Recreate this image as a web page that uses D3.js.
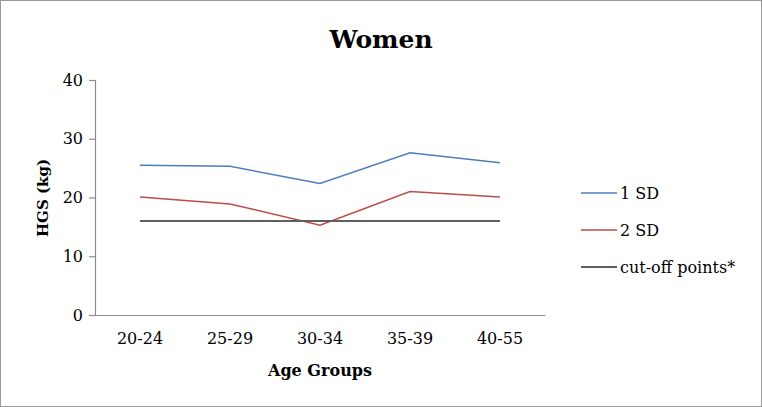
<!DOCTYPE html>
<html><head><meta charset="utf-8">
<script src="https://cdn.jsdelivr.net/npm/d3@7"></script>
<style>body{margin:0;background:#fff}svg{display:block}</style>
</head><body>
<script>
const categories = ["20-24","25-29","30-34","35-39","40-55"];
const sd1 = [25.5, 25.3, 22.4, 27.6, 25.9];
const sd2 = [20.1, 18.9, 15.3, 21.0, 20.1];
const cutoff = [16, 16, 16, 16, 16];
const seriesNames = ["1 SD","2 SD","cut-off points*"];
const yTicks = [0,10,20,30,40];

(function(){
const W = 762, H = 407;
const svg = d3.select("body").append("svg").attr("width",W).attr("height",H);
svg.append("rect").attr("x",0.5).attr("y",0.5).attr("width",W-1).attr("height",H-1)
  .attr("fill","#fff").attr("stroke","#9a9a9a");

const mL = 95, mR = 545, mT = 80, mB = 315;
const x = d3.scaleBand().domain(categories).range([mL,mR]);
const y = d3.scaleLinear().domain([0,40]).range([mB,mT]);

const font = "'DejaVu Serif', serif";

// y axis
const ya = svg.append("g").attr("transform",`translate(${mL},0)`)
  .call(d3.axisLeft(y).tickValues(yTicks).tickSize(6).tickPadding(6));
ya.select(".domain").attr("stroke","#8c8c8c").attr("stroke-width",1.2);
ya.selectAll(".tick line").attr("stroke","#8c8c8c").attr("stroke-width",1.2);
ya.selectAll("text").attr("font-family",font).attr("font-size",16).attr("fill","#000");

// x axis
const xa = svg.append("g").attr("transform",`translate(0,${mB})`)
  .call(d3.axisBottom(x).tickSize(0).tickPadding(18).tickSizeOuter(0));
xa.select(".domain").attr("stroke","#8c8c8c").attr("stroke-width",1.2);
xa.selectAll("text").attr("font-family",font).attr("font-size",16).attr("fill","#000");

const colors = ["#4a7ebb","#be4b48","#5f5f5f"];
const data = [sd1, sd2, cutoff];
const line = d3.line().x((d,i)=>x(categories[i])+x.bandwidth()/2).y(d=>y(d));
data.forEach((s,k)=>{
  svg.append("path").datum(s).attr("d",line).attr("fill","none")
    .attr("stroke",colors[k]).attr("stroke-width",k===2?1.8:1.5);
});

// title
svg.append("text").attr("x",381).attr("y",48).attr("text-anchor","middle")
  .attr("font-family",font).attr("font-weight","bold").attr("font-size",25).text("Women");
// axis titles
svg.append("text").attr("x",320).attr("y",376).attr("text-anchor","middle")
  .attr("font-family",font).attr("font-weight","bold").attr("font-size",16).text("Age Groups");
svg.append("text").attr("transform","translate(48,198) rotate(-90)").attr("text-anchor","middle")
  .attr("font-family",font).attr("font-weight","bold").attr("font-size",15).text("HGS (kg)");

// legend
const lg = svg.append("g");
seriesNames.forEach((n,i)=>{
  const yy = 193 + i*37;
  lg.append("line").attr("x1",581).attr("x2",617).attr("y1",yy).attr("y2",yy)
    .attr("stroke",colors[i]).attr("stroke-width",i===2?1.8:1.5);
  lg.append("text").attr("x",620).attr("y",yy+6).attr("font-family",font)
    .attr("font-size",16).text(n);
});
})();
</script>
</body></html>
